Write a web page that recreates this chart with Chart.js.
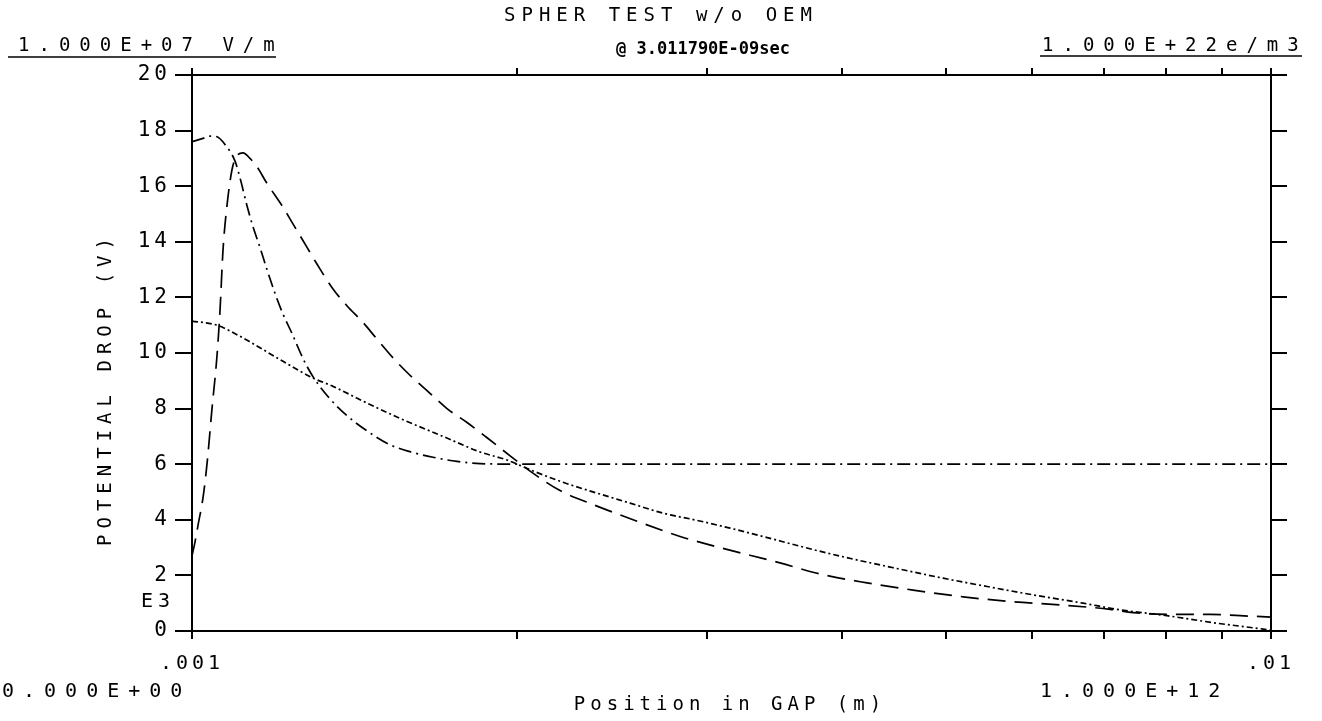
<!DOCTYPE html>
<html>
<head>
<meta charset="utf-8">
<script src="https://cdn.jsdelivr.net/npm/chart.js@4.4.1/dist/chart.umd.min.js"></script>
<style>
  html, body { margin: 0; padding: 0; background: #fff; }
  #wrap { width: 1322px; height: 721px; position: relative; }
</style>
</head>
<body>
<div id="wrap"><canvas id="spher"></canvas></div>
<script>
const FONT = "'DejaVu Sans Mono', monospace";

// curve 1 (dash-dot) - position in gap (m) / potential drop
const gapA = [0.001, 0.0010238, 0.0010392, 0.0010548, 0.0010729, 0.0010962, 0.0011079, 0.0011245,
  0.0011389, 0.0011561, 0.0011736, 0.0011937, 0.0012143, 0.001238, 0.0012674, 0.0012946,
  0.0013424, 0.0013918, 0.0014526, 0.0015256, 0.0015922, 0.0016725, 0.0017604, 0.0018493,
  0.0020575, 0.003, 0.005, 0.01];
const dropA = [17.6, 17.72, 17.8, 17.78, 17.5, 16.9, 16.3, 15.3,
  14.55, 13.8, 13.0, 12.15, 11.4, 10.7, 9.8, 9.15,
  8.35, 7.75, 7.2, 6.7, 6.45, 6.25, 6.1, 6.02,
  6.0, 6.0, 6.0, 6.0];

// curve 2 (long dashes)
const gapB = [0.001, 0.0010064, 0.0010129, 0.0010238, 0.0010325, 0.0010436, 0.0010548, 0.0010615,
  0.0010684, 0.0010775, 0.0010892, 0.0011008, 0.0011151, 0.0011317, 0.0011487, 0.0011736,
  0.0012118, 0.001238, 0.0012782, 0.0013056, 0.0013511, 0.0013918, 0.0014403, 0.001484,
  0.0015419, 0.0015922, 0.0016618, 0.0017231, 0.0017985, 0.0018772, 0.0019716, 0.0020575,
  0.0021932, 0.002353, 0.0025852, 0.0028334, 0.0030856, 0.0035069, 0.0038194, 0.004223,
  0.0046592, 0.0051847, 0.0057677, 0.0064162, 0.0070939, 0.0074505, 0.008061, 0.0087809,
  0.0093613, 0.01];
const dropB = [2.7, 3.2, 3.8, 4.8, 6.0, 8.0, 9.9, 11.5,
  13.7, 15.3, 16.6, 17.1, 17.2, 17.0, 16.7, 16.1,
  15.3, 14.7, 13.8, 13.2, 12.3, 11.7, 11.1, 10.5,
  9.75, 9.2, 8.55, 8.0, 7.5, 6.95, 6.3, 5.75,
  5.05, 4.55, 3.95, 3.4, 3.0, 2.45, 2.05, 1.73,
  1.47, 1.23, 1.05, 0.93, 0.78, 0.66, 0.6, 0.6,
  0.55, 0.5];

// curve 3 (fine dots)
const gapC = [0.001, 0.0010548, 0.0011079, 0.0011317, 0.0012143, 0.0012946, 0.0013511, 0.0014526,
  0.0015586, 0.0017231, 0.0018493, 0.001959, 0.0020575, 0.002207, 0.0023731, 0.0025468,
  0.0027322, 0.0029376, 0.0031525, 0.0033823, 0.0036846, 0.0040117, 0.004436, 0.0049677,
  0.0054564, 0.0060183, 0.0066968, 0.0072008, 0.0080093, 0.0089125, 0.0098311, 0.01];
const dropC = [11.15, 11.0, 10.6, 10.4, 9.7, 9.1, 8.8, 8.2,
  7.65, 6.94, 6.44, 6.15, 5.8, 5.35, 4.96, 4.6,
  4.24, 3.98, 3.7, 3.4, 3.02, 2.67, 2.3, 1.9,
  1.6, 1.3, 1.0, 0.78, 0.55, 0.28, 0.07, 0.03];

const yTicks = [0, 2, 4, 6, 8, 10, 12, 14, 16, 18, 20];
const xTicks = [0.001, 0.002, 0.003, 0.004, 0.005, 0.006, 0.007, 0.008, 0.009, 0.01];
const xTickLabels = [".001", "", "", "", "", "", "", "", "", ".01"];

function pts(xs, ys) {
  return xs.map((x, i) => ({ x: x, y: ys[i] }));
}

function line(data, dash) {
  return {
    data: data,
    borderColor: "#000",
    borderWidth: 1.7,
    borderDash: dash,
    pointRadius: 0,
    fill: false,
    cubicInterpolationMode: "monotone",
    xAxisID: "x",
    yAxisID: "y",
  };
}

function spaced(ctx, text, x, y, font, spacing, align) {
  ctx.save();
  ctx.font = font;
  ctx.letterSpacing = spacing + "px";
  ctx.fillStyle = "#000";
  ctx.textBaseline = "middle";
  ctx.textAlign = align || "left";
  ctx.fillText(text, x, y);
  ctx.restore();
}

// plotter style labels round the frame
const plotterText = {
  id: "plotterText",
  beforeDraw(chart) {
    chart.ctx.letterSpacing = "4px";
  },
  afterDraw(chart) {
    const ctx = chart.ctx;
    const a = chart.chartArea;
    spaced(ctx, "SPHER TEST w/o OEM", 661, 16, "19px " + FONT, 6, "center");
    spaced(ctx, "@ 3.011790E-09sec", 703, 50, "bold 17px " + FONT, 0, "center");
    spaced(ctx, "1.000E+07 V/m", 18, 46, "19px " + FONT, 9, "left");
    spaced(ctx, "1.000E+22e/m3", 1042, 46, "19px " + FONT, 9, "left");
    ctx.save();
    ctx.strokeStyle = "#000";
    ctx.lineWidth = 1.5;
    ctx.beginPath();
    ctx.moveTo(8, 57); ctx.lineTo(276, 57);
    ctx.moveTo(1040, 56); ctx.lineTo(1302, 56);
    ctx.stroke();
    ctx.restore();
    spaced(ctx, "E3", 141, 602, "20px " + FONT, 5, "left");
    spaced(ctx, "0.000E+00", 2, 692, "20px " + FONT, 9, "left");
    spaced(ctx, "1.000E+12", 1040, 692, "20px " + FONT, 9, "left");
    spaced(ctx, "Position in GAP (m)", 730, 705, "19px " + FONT, 5, "center");
    ctx.save();
    ctx.translate(106, (a.top + a.bottom) / 2 + 36);
    ctx.rotate(-Math.PI / 2);
    spaced(ctx, "POTENTIAL DROP (V)", 0, 0, "19px " + FONT, 6, "center");
    ctx.restore();
  },
};

const frameGrid = (len) => ({
  drawOnChartArea: false,
  drawTicks: true,
  tickLength: len,
  color: "#000",
  lineWidth: 2,
});

new Chart(document.getElementById("spher"), {
  type: "line",
  data: {
    datasets: [
      line(pts(gapA, dropA), [13, 5, 2, 5]),
      line(pts(gapB, dropB), [18, 9]),
      line(pts(gapC, dropC), [6, 3, 2, 3]),
    ],
  },
  options: {
    responsive: true,
    maintainAspectRatio: false,
    animation: false,
    devicePixelRatio: 1,
    layout: { padding: 0 },
    plugins: {
      legend: { display: false },
      tooltip: { enabled: false },
    },
    scales: {
      x: {
        type: "logarithmic",
        position: "bottom",
        min: 0.001,
        max: 0.01,
        border: { display: true, color: "#000", width: 2 },
        grid: frameGrid(8),
        afterBuildTicks: (s) => { s.ticks = xTicks.map((v) => ({ value: v })); },
        ticks: {
          autoSkip: false,
          maxRotation: 0,
          color: "#000",
          padding: 13,
          font: { family: FONT, size: 20 },
          callback: (v, i) => xTickLabels[i],
        },
        afterFit: (s) => { s.height = 90; },
      },
      x2: {
        type: "logarithmic",
        position: "top",
        min: 0.001,
        max: 0.01,
        border: { display: true, color: "#000", width: 2 },
        grid: frameGrid(7),
        afterBuildTicks: (s) => { s.ticks = xTicks.map((v) => ({ value: v })); },
        ticks: { display: false, autoSkip: false },
        afterFit: (s) => { s.height = 75; },
      },
      y: {
        position: "left",
        min: 0,
        max: 20,
        border: { display: true, color: "#000", width: 2 },
        grid: frameGrid(17),
        afterBuildTicks: (s) => { s.ticks = yTicks.map((v) => ({ value: v })); },
        ticks: {
          color: "#000",
          padding: 4,
          font: { family: FONT, size: 21 },
        },
        afterFit: (s) => { s.width = 192; },
      },
      y2: {
        position: "right",
        min: 0,
        max: 20,
        border: { display: true, color: "#000", width: 2 },
        grid: frameGrid(16),
        afterBuildTicks: (s) => { s.ticks = yTicks.map((v) => ({ value: v })); },
        ticks: { display: false },
        afterFit: (s) => { s.width = 51; },
      },
    },
  },
  plugins: [plotterText],
});
</script>
</body>
</html>
